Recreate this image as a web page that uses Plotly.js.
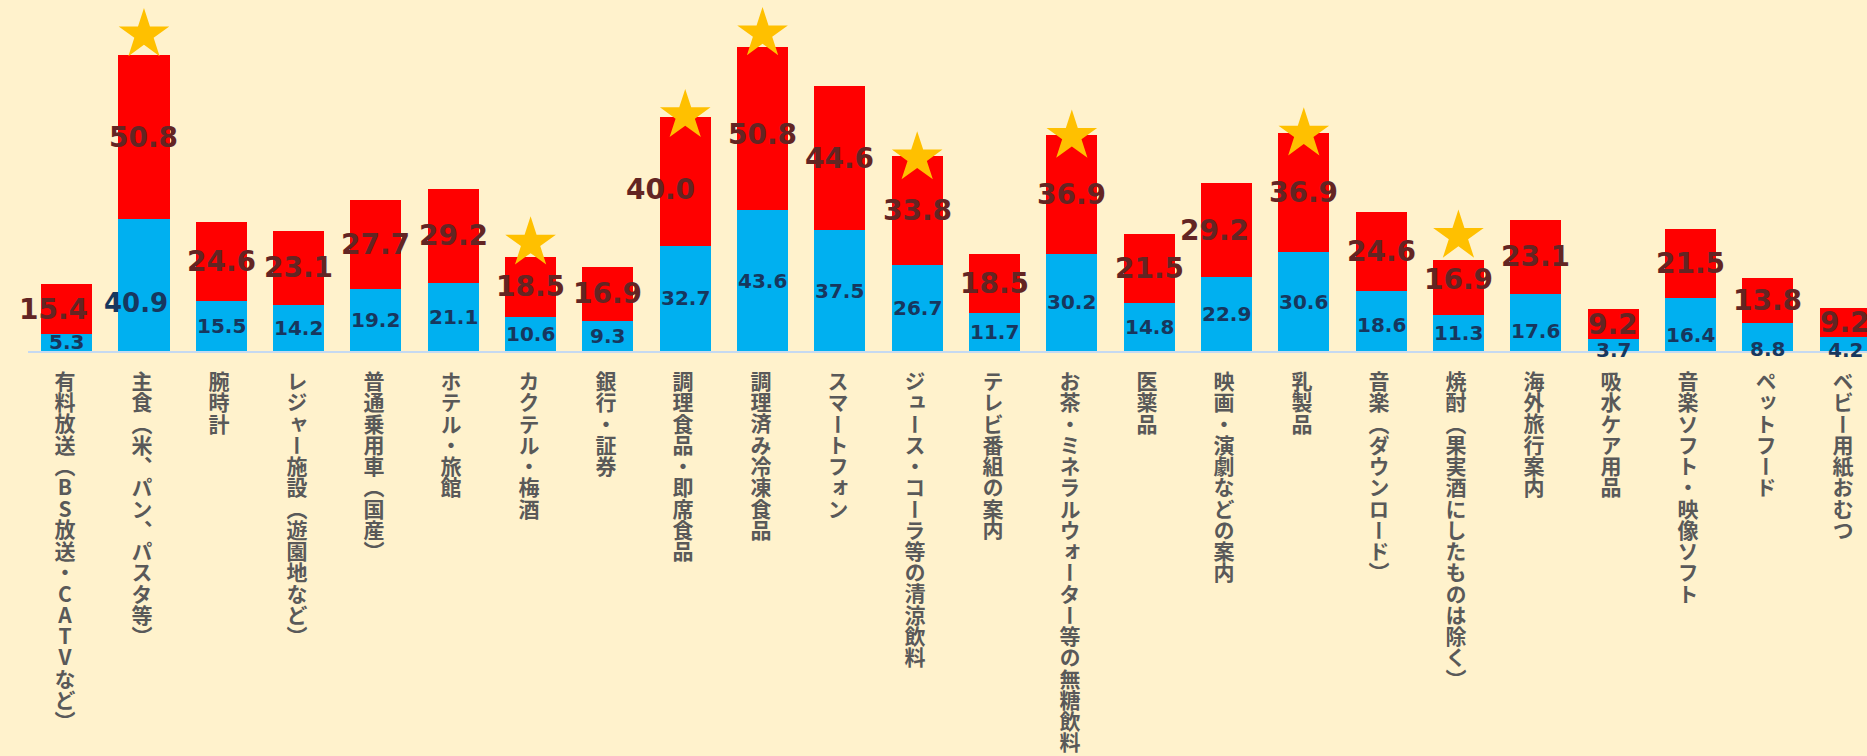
<!DOCTYPE html>
<html>
<head>
<meta charset="utf-8">
<script src="https://cdn.plot.ly/plotly-3.0.1.min.js"></script>
<style>
  html, body { margin: 0; padding: 0; background: #fff2cc; }
  #chart { width: 1867px; height: 756px; }
  /* category labels are set in vertical Japanese (tategaki), characters upright */
  text.annotation-text[style*="Noto Sans CJK"] {
    writing-mode: vertical-rl;
    text-orientation: upright;
    font-feature-settings: "vert" 1;
  }
</style>
</head>
<body>
<div id="chart"></div>
<script>
// ---- data ----
const categories = [
  '有料放送（BS放送・CATVなど）',
  '主食（米、パン、パスタ等）',
  '腕時計',
  'レジャー施設（遊園地など）',
  '普通乗用車（国産）',
  'ホテル・旅館',
  'カクテル・梅酒',
  '銀行・証券',
  '調理食品・即席食品',
  '調理済み冷凍食品',
  'スマートフォン',
  'ジュース・コーラ等の清涼飲料',
  'テレビ番組の案内',
  'お茶・ミネラルウォーター等の無糖飲料',
  '医薬品',
  '映画・演劇などの案内',
  '乳製品',
  '音楽（ダウンロード）',
  '焼酎（果実酒にしたものは除く）',
  '海外旅行案内',
  '吸水ケア用品',
  '音楽ソフト・映像ソフト',
  'ペットフード',
  'ベビー用紙おむつ'
];
const blueValues = [5.3, 40.9, 15.5, 14.2, 19.2, 21.1, 10.6, 9.3, 32.7, 43.6, 37.5, 26.7,
                    11.7, 30.2, 14.8, 22.9, 30.6, 18.6, 11.3, 17.6, 3.7, 16.4, 8.8, 4.2];
const redValues  = [15.4, 50.8, 24.6, 23.1, 27.7, 29.2, 18.5, 16.9, 40.0, 50.8, 44.6, 33.8,
                    18.5, 36.9, 21.5, 29.2, 36.9, 24.6, 16.9, 23.1, 9.2, 21.5, 13.8, 9.2];
// star marks (value-axis height at which each star sits; null = no star)
const starY = [null, 98.1, null, null, null, null, 33.5, null, 73.0, 98.4, null, 59.9,
               null, 66.6, null, null, 67.3, null, 35.6, null, null, null, null, null];

// ---- style ----
const BLUE = '#00b0f0', RED = '#ff0000', STAR = '#ffc000';
const BLUE_TXT = '#17375e', RED_TXT = '#632523', CAT_TXT = '#595959';
const BG = '#fff2cc';
const CAT_FONT = '"Noto Sans CJK JP", "Noto Sans CJK SC", sans-serif';
const NUM_FONT = '"DejaVu Sans", Verdana, sans-serif';
const CAT_PX = 21;            // vertical label glyph size
const PITCH = 21.25;          // px between stacked characters
const FIRST = 30.6;           // px from axis line to centre of first character
const BLUE_PX = 20, RED_PX = 28;
const blueSize = { 1: 26 };   // one enlarged label in the picture
// hand-placed label offsets seen in the picture (px: [right, down])
const redNudge  = { 0: [-13, 0], 8: [-25, 8], 9: [0, 6], 15: [-12, 0], 18: [0, -8] };
const blueNudge = { 1: [-8, 18], 17: [0, 4], 19: [0, 8], 21: [0, 10], 22: [0, 12], 23: [0, 6], 20: [0, 5] };

const fmt = v => v.toFixed(1);

const traces = [
  { type: 'bar', x: categories, y: blueValues, marker: { color: BLUE, line: { width: 0 } },
    hoverinfo: 'none', showlegend: false },
  { type: 'bar', x: categories, y: redValues, marker: { color: RED, line: { width: 0 } },
    hoverinfo: 'none', showlegend: false },
  { type: 'scatter', mode: 'markers', x: categories, y: starY, cliponaxis: false,
    marker: { symbol: 'star', size: 38, color: STAR, line: { width: 0 } },
    hoverinfo: 'none', showlegend: false }
];

const annotations = [];
// value labels
categories.forEach((c, i) => {
  const bn = blueNudge[i] || [0, 0];
  annotations.push({
    x: c, xref: 'x', y: blueValues[i] / 2, yref: 'y', text: fmt(blueValues[i]),
    showarrow: false, xanchor: 'center', yanchor: 'middle', xshift: bn[0], yshift: -bn[1],
    font: { family: NUM_FONT, size: blueSize[i] || BLUE_PX, color: BLUE_TXT, weight: 'bold' }
  });
  const rn = redNudge[i] || [0, 0];
  annotations.push({
    x: c, xref: 'x', y: blueValues[i] + redValues[i] / 2, yref: 'y', text: fmt(redValues[i]),
    showarrow: false, xanchor: 'center', yanchor: 'middle', xshift: rn[0], yshift: -rn[1],
    font: { family: NUM_FONT, size: RED_PX, color: RED_TXT, weight: 'bold' }
  });
});
// vertical category labels under the axis, one upright character per step
categories.forEach((c, i) => {
  Array.from(c).forEach((ch, j) => {
    annotations.push({
      x: c, xref: 'x', y: 0, yref: 'y', text: ch, showarrow: false,
      xanchor: 'center', yanchor: 'middle', xshift: -2, yshift: -(FIRST + j * PITCH),
      font: { family: CAT_FONT, size: CAT_PX, color: CAT_TXT, weight: 'bold' }
    });
  });
});

const layout = {
  width: 1867, height: 756,
  paper_bgcolor: BG, plot_bgcolor: BG,
  margin: { l: 28, r: 0, t: 0, b: 405, pad: 0 },
  barmode: 'stack', bargap: 0.34,
  showlegend: false,
  xaxis: { type: 'category', range: [-0.5, 23.284], showticklabels: false, ticks: '',
           showgrid: false, zeroline: false, showline: true, linecolor: '#c5d9f1', linewidth: 2,
           fixedrange: true },
  yaxis: { range: [0, 108.84], visible: false, showgrid: false, zeroline: false, fixedrange: true },
  annotations: annotations
};

Plotly.newPlot('chart', traces, layout, { displayModeBar: false, staticPlot: true });
</script>
</body>
</html>
